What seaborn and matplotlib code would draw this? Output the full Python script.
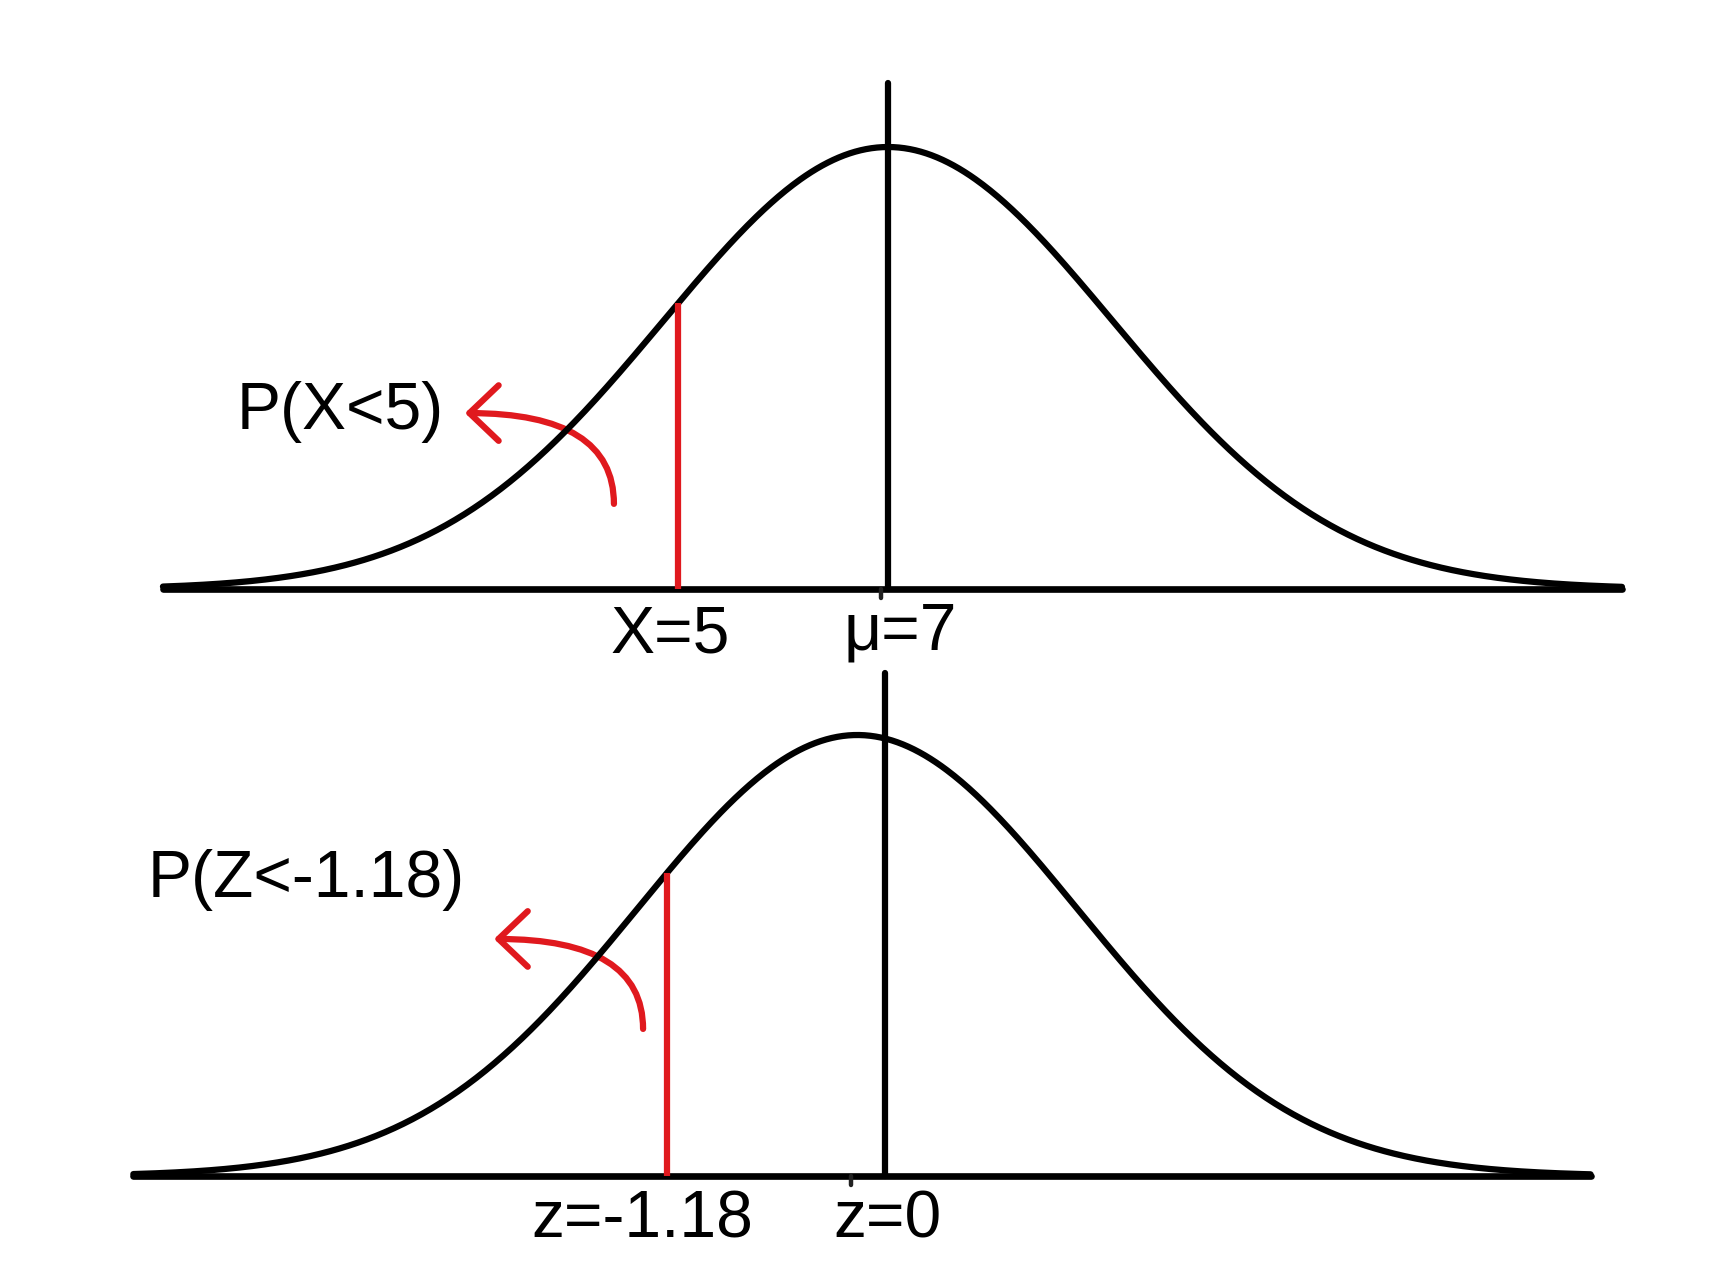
import numpy as np
import pandas as pd
import matplotlib.pyplot as plt
from matplotlib.patches import FancyArrowPatch
import seaborn as sns

sns.set_theme(style="white")
plt.rcParams["font.family"] = ["Liberation Sans", "DejaVu Sans"]
plt.rcParams["text.color"] = "black"

# values (the bells are drawn by hand, not to scale)
centres     = [7.0, -0.15]        # where each drawn bell peaks
spreads     = [2.14, 1.19]        # drawn width of each bell
cut_values  = [5.0, -1.18]        # red line
mean_values = [7.0, 0.0]          # black line
cut_labels  = ["X=5", "z=-1.18"]
mean_labels = ["μ=7", "z=0"]
prob_labels = ["P(X<5)", "P(Z<-1.18)"]

RED = "#e0191e"
LW = 4.5
FS = 47.5

# per-panel layout in data units
layout = [
    dict(xlim=(-1.457, 15.038), ylim=(-0.01814, 0.24843), span=(0.095, 13.99),
         mean_top=0.2134, tail=(4.39, 0.0359), head=(2.971, 0.0742),
         cut_txt=(4.924, -0.0266), mean_txt=(7.114, -0.0257), prob_txt=(1.781, 0.0675)),
    dict(xlim=(-4.792, 4.586), ylim=(-0.06766, 0.41356), span=(-4.07, 3.82),
         mean_top=0.3824, tail=(-1.31, 0.1118), head=(-2.117, 0.1802),
         cut_txt=(-1.316, -0.0464), mean_txt=(0.016, -0.0464), prob_txt=(-3.135, 0.2121)),
]


def bell(x, c, s):
    return np.exp(-0.5 * ((x - c) / s) ** 2) / (s * np.sqrt(2 * np.pi))


fig = plt.figure(figsize=(17.32, 12.65), dpi=100)
axes = [fig.add_axes([0, 0.5004, 1, 0.4996]), fig.add_axes([0, 0, 1, 0.5004])]

for i, ax in enumerate(axes):
    L = layout[i]
    c, s = centres[i], spreads[i]
    ax.patch.set_visible(False)
    ax.set_xlim(*L["xlim"]); ax.set_ylim(*L["ylim"])
    ax.set_axis_off()

    x = np.linspace(L["span"][0], L["span"][1], 800)
    df = pd.DataFrame({"x": x, "density": bell(x, c, s)})
    sns.lineplot(data=df, x="x", y="density", color="black", lw=LW, ax=ax)

    # baseline + little tick under the peak
    ax.plot(L["span"], [0, 0], color="black", lw=LW + 0.3, solid_capstyle="round")
    px = (L["ylim"][1] - L["ylim"][0]) / (fig.get_figheight() * fig.dpi * ax.get_position().height)
    ax.plot([c - 0.03 * s, c - 0.03 * s], [0, -9 * px], color="#222222", lw=3.2)

    # mean line and cut line
    ax.plot([mean_values[i]] * 2, [0, L["mean_top"]], color="black", lw=LW,
            solid_capstyle="round")
    ax.plot([cut_values[i]] * 2, [0, bell(cut_values[i], c, s)], color=RED, lw=LW,
            solid_capstyle="butt")

    # curved arrow pointing to the left tail
    ax.add_patch(FancyArrowPatch(L["tail"], L["head"],
                                 arrowstyle="->,head_length=21,head_width=20",
                                 connectionstyle="angle3,angleA=90,angleB=0",
                                 color=RED, lw=LW, capstyle="round", joinstyle="round",
                                 shrinkA=0, shrinkB=0, mutation_scale=1))

    ax.text(*L["cut_txt"], cut_labels[i], ha="center", va="baseline", fontsize=FS,
            color="black")
    ax.text(*L["mean_txt"], mean_labels[i], ha="center", va="baseline", fontsize=FS,
            color="black")
    ax.text(*L["prob_txt"], prob_labels[i], ha="center", va="baseline", fontsize=FS,
            color="black")

fig.savefig("out.png", dpi=100, facecolor="white")
